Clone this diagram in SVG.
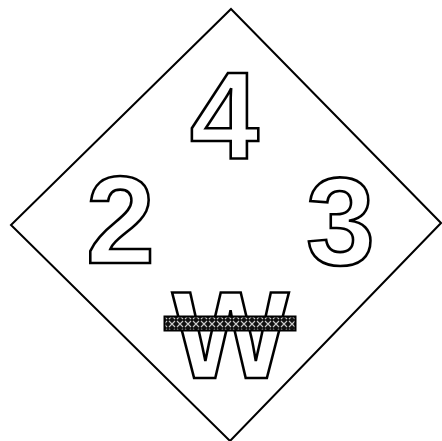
<svg xmlns="http://www.w3.org/2000/svg" width="442" height="441" viewBox="0 0 442 441">
<style>
.num{font-family:"Liberation Sans",Arial,sans-serif;font-weight:bold;font-size:124px;fill:#fff;stroke:#000;stroke-width:2.6;text-anchor:middle}
</style>
<defs>
<pattern id="hatch" width="8" height="8" patternUnits="userSpaceOnUse">
<rect width="8" height="8" fill="#111"/>
<path d="M1 1L7 7M7 1L1 7" stroke="#ccc" stroke-width="1.1"/>
</pattern>
</defs>
<rect width="442" height="441" fill="#fff"/>
<g id="diamond"><polygon points="231,9 441,223 230,441 11,225" fill="#fff" stroke="#000" stroke-width="2"/></g>
<g id="health"><text class="num" x="224.5" y="158">4</text></g>
<g id="flammability"><text class="num" x="120.5" y="263">2</text></g>
<g id="reactivity"><text class="num" x="340.5" y="265">3</text></g>
<g id="special"><text class="num" x="230.5" y="378">W</text>
<rect x="164.5" y="316.5" width="131" height="14" fill="url(#hatch)" stroke="#000" stroke-width="2"/></g>
</svg>
